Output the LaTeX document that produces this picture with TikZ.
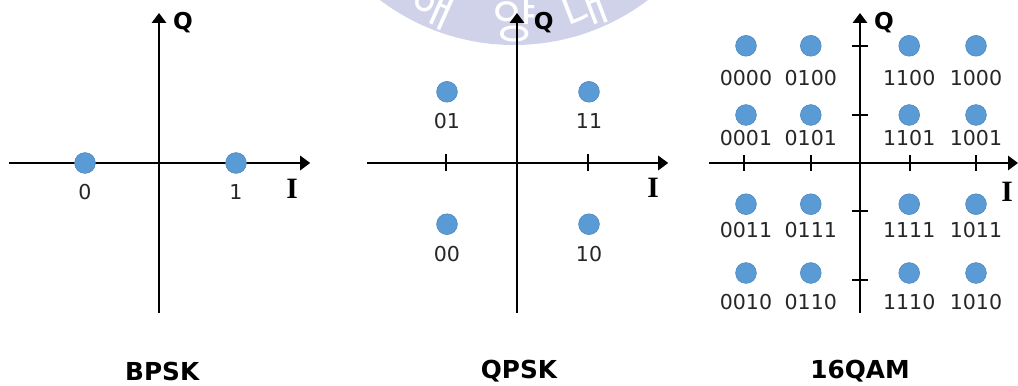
\documentclass[tikz,border=0pt]{standalone}
\usepackage{fontspec}
\setmainfont{DejaVu Sans}
\newfontfamily\serifI{Liberation Serif}
\newfontfamily\hangul{Noto Sans CJK KR}
\usepackage{tikz}
\usetikzlibrary{arrows.meta}
\definecolor{symbolBlue}{HTML}{5B9BD5}
\definecolor{symbolEdge}{HTML}{4A86BD}
\definecolor{sealLavender}{HTML}{CFD2E8}

\begin{document}
\begin{tikzpicture}[
    axis/.style={line width=1.4pt,-{Triangle[length=0.25cm,width=0.36cm]}},
    tick/.style={line width=1.1pt},
    symbol/.style={circle,fill=symbolBlue,draw=symbolEdge,line width=0.4pt,
      minimum size=0.52cm,inner sep=0pt},
    bits/.style={font=\fontsize{14.6}{17}\selectfont,text=black!85},
    iname/.style={font=\serifI\bfseries\fontsize{21}{23}\selectfont},
    qname/.style={font=\bfseries\fontsize{16.5}{18}\selectfont},
    title/.style={font=\bfseries\fontsize{17.6}{20}\selectfont},
    seal/.style={font=\hangul\fontsize{34}{36}\selectfont,text=white,
      anchor=base,inner sep=0pt}]
  \useasboundingbox (0,0) rectangle (25.45,9.65);

  %% seal in the background
  \begin{scope}
    \clip (0,0) rectangle (25.45,9.65);
    \begin{scope}[shift={(12.85,14.075)}]
      \fill[sealLavender] (0,0) circle (5.55);
      \node[seal,rotate=-24] (sealHae) at (-114:5.4) {해};
      \node[seal] (sealYang) at (-90:5.4) {양};
      \node[seal,rotate=21] (sealDae) at (-69:5.4) {대};
    \end{scope}
  \end{scope}

  %% BPSK
  \begin{scope}[shift={(3.975,5.575)}]
    \draw[axis] (-3.75,0) -- (3.78,0);
    \draw[axis] (0,-3.75) -- (0,3.75);
    \node[iname] (bpskI) at (3.33,-0.65) {I};
    \node[qname] (bpskQ) at (0.6,3.5) {Q};

    \node[symbol] (b0) at (-1.85,0) {};
    \node[symbol] (b1) at (1.925,0) {};
    \node[bits] (b0lbl) at (-1.85,-0.73) {0};
    \node[bits] (b1lbl) at (1.925,-0.73) {1};

    \node[title] (bpsk) at (0.08,-5.2) {BPSK};
  \end{scope}

  %% QPSK
  \begin{scope}[shift={(12.925,5.575)}]
    \draw[axis] (-3.75,0) -- (3.78,0);
    \draw[axis] (0,-3.75) -- (0,3.75);
    \draw[tick] (-1.78,-0.19) -- (-1.78,0.23);
    \draw[tick] (1.78,-0.19) -- (1.78,0.23);
    \node[iname] (qpskI) at (3.4,-0.63) {I};
    \node[qname] (qpskQ) at (0.67,3.5) {Q};

    \node[symbol] (q01) at (-1.75,1.78) {};
    \node[symbol] (q11) at (1.8,1.78) {};
    \node[symbol] (q00) at (-1.75,-1.53) {};
    \node[symbol] (q10) at (1.8,-1.53) {};
    \node[bits] (q01lbl) at (-1.75,1.05) {01};
    \node[bits] (q11lbl) at (1.8,1.05) {11};
    \node[bits] (q00lbl) at (-1.75,-2.28) {00};
    \node[bits] (q10lbl) at (1.8,-2.28) {10};

    \node[title] (qpsk) at (0.05,-5.2) {QPSK};
  \end{scope}

  %% 16QAM
  \begin{scope}[shift={(21.5,5.575)}]
    \draw[axis] (-3.78,0) -- (3.95,0);
    \draw[axis] (0,-3.75) -- (0,3.75);
    \draw[tick] (-2.9,-0.19) -- (-2.9,0.2);
    \draw[tick] (-1.23,-0.19) -- (-1.23,0.2);
    \draw[tick] (1.25,-0.19) -- (1.25,0.2);
    \draw[tick] (2.9,-0.19) -- (2.9,0.2);
    \draw[tick] (-0.2,2.93) -- (0.2,2.93);
    \draw[tick] (-0.2,1.2) -- (0.2,1.2);
    \draw[tick] (-0.2,-1.2) -- (0.2,-1.2);
    \draw[tick] (-0.2,-2.93) -- (0.2,-2.93);
    \node[iname] (qamI) at (3.68,-0.73) {I};
    \node[qname] (qamQ) at (0.6,3.52) {Q};

    % first row
    \node[symbol] (m0000) at (-2.85,2.93) {};
    \node[symbol] (m0100) at (-1.23,2.93) {};
    \node[symbol] (m1100) at (1.23,2.93) {};
    \node[symbol] (m1000) at (2.9,2.93) {};
    \node[bits] at (-2.85,2.13) (m0000lbl) {0000};
    \node[bits] at (-1.23,2.13) (m0100lbl) {0100};
    \node[bits] at (1.23,2.13) (m1100lbl) {1100};
    \node[bits] at (2.9,2.13) (m1000lbl) {1000};

    % second row
    \node[symbol] (m0001) at (-2.85,1.2) {};
    \node[symbol] (m0101) at (-1.23,1.2) {};
    \node[symbol] (m1101) at (1.23,1.2) {};
    \node[symbol] (m1001) at (2.9,1.2) {};
    \node[bits] at (-2.85,0.63) (m0001lbl) {0001};
    \node[bits] at (-1.23,0.63) (m0101lbl) {0101};
    \node[bits] at (1.23,0.63) (m1101lbl) {1101};
    \node[bits] at (2.9,0.63) (m1001lbl) {1001};

    % third row
    \node[symbol] (m0011) at (-2.85,-1.03) {};
    \node[symbol] (m0111) at (-1.23,-1.03) {};
    \node[symbol] (m1111) at (1.23,-1.03) {};
    \node[symbol] (m1011) at (2.9,-1.03) {};
    \node[bits] at (-2.85,-1.68) (m0011lbl) {0011};
    \node[bits] at (-1.23,-1.68) (m0111lbl) {0111};
    \node[bits] at (1.23,-1.68) (m1111lbl) {1111};
    \node[bits] at (2.9,-1.68) (m1011lbl) {1011};

    % fourth row
    \node[symbol] (m0010) at (-2.85,-2.75) {};
    \node[symbol] (m0110) at (-1.23,-2.75) {};
    \node[symbol] (m1110) at (1.23,-2.75) {};
    \node[symbol] (m1010) at (2.9,-2.75) {};
    \node[bits] at (-2.85,-3.48) (m0010lbl) {0010};
    \node[bits] at (-1.23,-3.48) (m0110lbl) {0110};
    \node[bits] at (1.23,-3.48) (m1110lbl) {1110};
    \node[bits] at (2.9,-3.48) (m1010lbl) {1010};

    \node[title] (qam) at (0,-5.2) {16QAM};
  \end{scope}
\end{tikzpicture}
\end{document}
